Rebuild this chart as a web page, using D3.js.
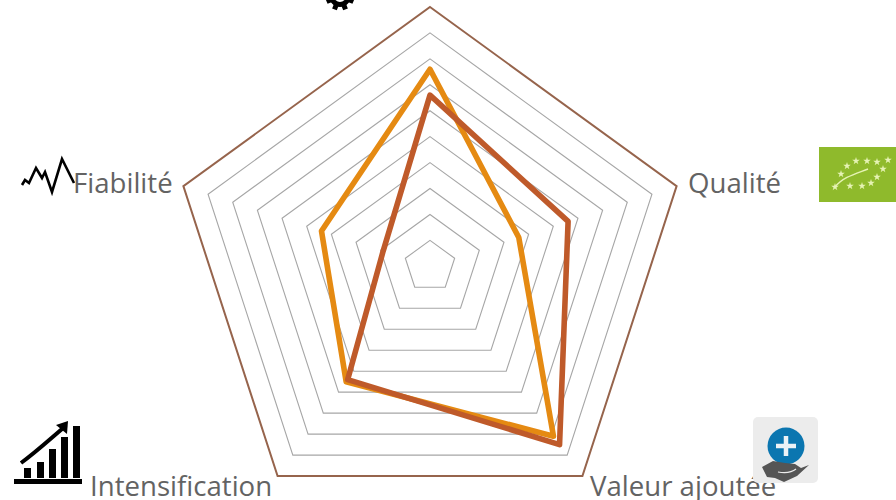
<!DOCTYPE html>
<html>
<head>
<meta charset="utf-8">
<script src="https://cdn.jsdelivr.net/npm/d3@7"></script>
<style>
html, body { margin: 0; padding: 0; background: #fff; overflow: hidden; }
.axis-label { font-family: "Open Sans", sans-serif; font-size: 27.6px; fill: #636363; }
</style>
</head>
<body>
<svg class="radar" width="896" height="500"></svg>
<script>
var categories = ["", "Qualité", "Valeur ajoutée", "Intensification", "Fiabilité"];
var orangeValues = [7.6, 3.6, 8.1, 5.5, 4.4];
var brownValues = [6.6, 5.6, 8.5, 5.4, 1.9];
var levels = [1, 2, 3, 4, 5, 6, 7, 8, 9, 10];

var cx = 430, cy = 266.3, outer = 259.3;
var svg = d3.select("svg.radar");

var r = d3.scaleLinear().domain([0, 10]).range([0, outer]);
var angle = d3.scalePoint().domain(d3.range(categories.length))
    .range([0, 2 * Math.PI * (categories.length - 1) / categories.length]);

var radar = d3.lineRadial()
    .angle(function(d, i) { return angle(i); })
    .radius(function(d) { return r(d); })
    .curve(d3.curveLinearClosed);

var g = svg.append("g")
    .attr("transform", "translate(" + cx + "," + cy + ")");

// grid rings
g.selectAll(".ring")
    .data(levels)
    .enter().append("path")
    .attr("class", "ring")
    .attr("fill", "none")
    .attr("stroke", function(d) { return d == 10 ? "#96644c" : "#a6a6a6"; })
    .attr("stroke-width", function(d) { return d == 10 ? 2 : 1.1; })
    .attr("d", function(d) { return radar(categories.map(function() { return d; })); });

// series
g.selectAll(".serie")
    .data([
        {color: "#e58a12", values: orangeValues},
        {color: "#bf5a2a", values: brownValues}
    ])
    .enter().append("path")
    .attr("class", "serie")
    .attr("fill", "none")
    .attr("stroke", function(d) { return d.color; })
    .attr("stroke-width", 5.6)
    .attr("stroke-linejoin", "round")
    .attr("d", function(d) { return radar(d.values); });

// labels
var labelPos = [null, [688, 193], [590, 496], [90, 496], [73, 193]];
categories.forEach(function(c, i) {
    if (!c) return;
    svg.append("text")
        .attr("class", "axis-label")
        .attr("x", labelPos[i][0])
        .attr("y", labelPos[i][1])
        .text(c);
});

// gear icon, top (cut by the page edge)
var gear = svg.append("g").attr("transform", "translate(340,-4)");
gear.append("circle").attr("r", 8.5).attr("fill", "none").attr("stroke", "#000").attr("stroke-width", 5);
d3.range(8).forEach(function(i) {
    gear.append("rect")
        .attr("x", -2.5).attr("y", -14.5).attr("width", 5).attr("height", 5)
        .attr("transform", "rotate(" + (i * 45 + 22.5) + ")");
});

// leaf logo
var leaf = svg.append("g");
leaf.append("rect").attr("x", 819).attr("y", 147).attr("width", 77).attr("height", 55).attr("fill", "#8fba2c");
var stars = [[835,187],[850,186],[862,186],[871,183],[877,177],[883,169],[888,160],[877,162],[867,161],[856,161],[847,166],[841,174]];
leaf.selectAll("path.star")
    .data(stars)
    .enter().append("path")
    .attr("class", "star")
    .attr("fill", "#e6f3b4")
    .attr("transform", function(d) { return "translate(" + d[0] + "," + d[1] + ")"; })
    .attr("d", d3.symbol().type(d3.symbolStar).size(18));
leaf.append("path")
    .attr("d", "M835,187 C843,177 855,174 868,169")
    .attr("fill", "none").attr("stroke", "#e6f3b4").attr("stroke-width", 1.4);

// zigzag icon
svg.append("path")
    .attr("d", "M22,185 L25,180 L29,183 L36,168 L42,178 L45,172 L52,192 L62,159 L74,183")
    .attr("fill", "none").attr("stroke", "#000").attr("stroke-width", 2.6);

// bars and arrow icon
var iconBars = svg.append("g");
[[24,468,7,10],[37,462,7,16],[49,449,7,29],[61,437,7,41],[73,426,7,52]].forEach(function(b) {
    iconBars.append("rect").attr("x", b[0]).attr("y", b[1]).attr("width", b[2]).attr("height", b[3]);
});
iconBars.append("rect").attr("x", 14).attr("y", 479).attr("width", 68).attr("height", 5);
iconBars.append("path")
    .attr("d", "M21,463 C36,452 48,441 62,429")
    .attr("fill", "none").attr("stroke", "#000").attr("stroke-width", 4);
iconBars.append("path").attr("d", "M56,425 L68,421 L67,434 Z");

// plus and hand icon
var plus = svg.append("g");
plus.append("rect").attr("x", 753).attr("y", 417).attr("width", 65).attr("height", 66).attr("rx", 5).attr("fill", "#ececec");
plus.append("circle").attr("cx", 786).attr("cy", 446).attr("r", 18.5).attr("fill", "#0b76b0");
plus.append("path").attr("d", "M786,436 V456 M776,446 H796").attr("stroke", "#ecf2f6").attr("stroke-width", 4.5);
plus.append("path")
    .attr("d", "M762,467 L773,461 L785,463 L795,464 L801,468 L809,465 L797,476 L784,482 L775,478 L767,477 Z")
    .attr("fill", "#555");
plus.append("path").attr("d", "M778,472 Q790,474 796,469").attr("fill", "none").attr("stroke", "#ececec").attr("stroke-width", 1.2);
</script>
</body>
</html>
